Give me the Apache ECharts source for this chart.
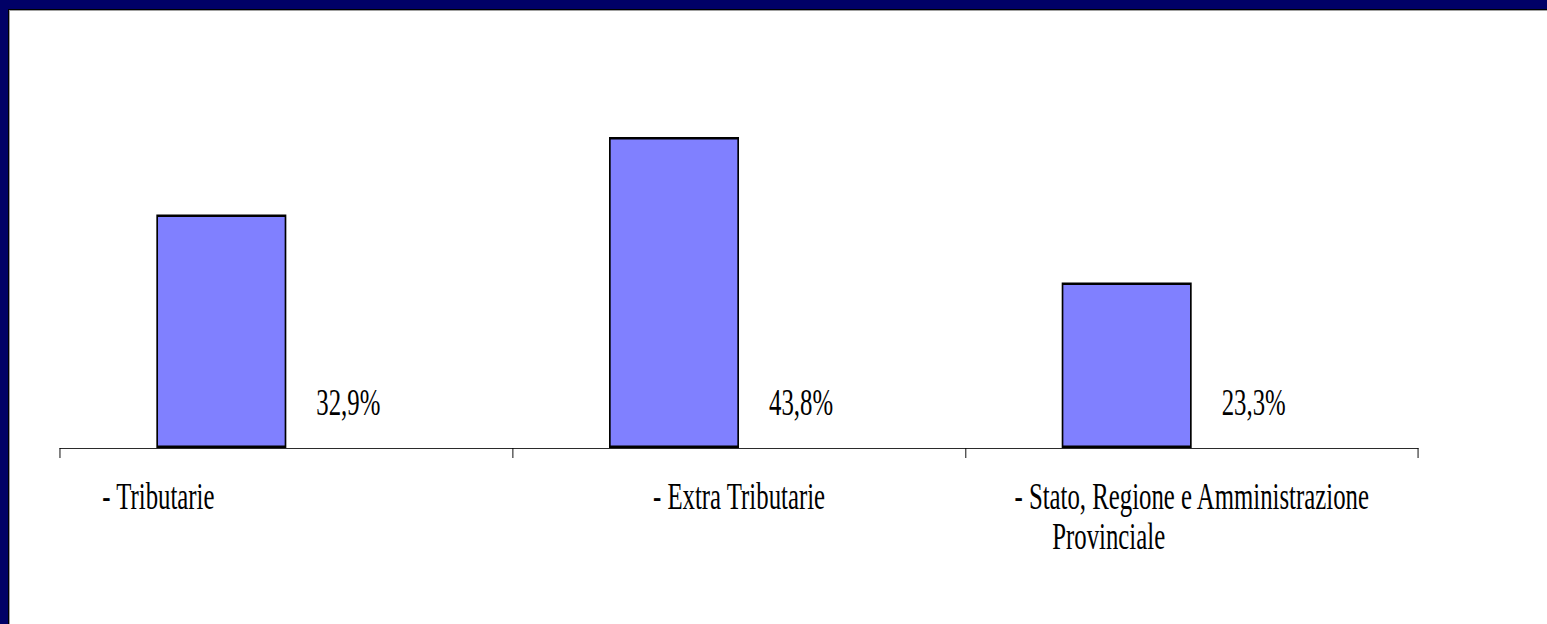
<!DOCTYPE html>
<html>
<head>
<meta charset="utf-8">
<script src="https://cdn.jsdelivr.net/npm/echarts@6/dist/echarts.min.js"></script>
<style>
  html, body { margin: 0; padding: 0; width: 1547px; height: 624px; overflow: hidden; background: #000066; }
  #frame { position: absolute; left: 8px; top: 9px; right: 0; bottom: 0; background: #fff;
           border-left: 1px solid #000; border-top: 1px solid #000; box-shadow: inset 1px 1px 0 #a0a0a0; }
  /* the chart is laid out wider and condensed horizontally, like the reference's narrow Times text */
  #chart { position: absolute; left: 0; top: 0; width: 2309px; height: 624px;
           transform: scaleX(0.67); transform-origin: 0 0; }
</style>
</head>
<body>
<div id="frame"></div>
<div id="chart"></div>
<script>
const categories = ['- Tributarie', '- Extra Tributarie', '- Stato, Regione e Amministrazione\nProvinciale'];
const values = [32.9, 43.8, 23.3];

const S = 0.67;            // horizontal condensing factor
const px = v => v / S;     // screen px -> pre-scale px (horizontal only)
const FONT = '"Liberation Serif", "Times New Roman", serif';
const chart = echarts.init(document.getElementById('chart'), null, { renderer: 'svg' });

function catFormatter(v, i) {
  if (i === 0) return '{a|' + v + '}';
  if (i === 2) {
    const parts = v.split('\n');
    return '{c|' + parts[0] + '}\n{p|' + parts[1] + '}';
  }
  return '{c|' + v + '}';
}

const LH = 40;
chart.setOption({
  backgroundColor: 'transparent',
  animation: false,
  grid: { left: px(60), right: px(129), top: 93, bottom: 176, containLabel: false },
  xAxis: {
    type: 'category',
    data: categories,
    axisLine: { lineStyle: { color: '#000', width: 1 } },
    axisTick: { show: true, length: 10, lineStyle: { color: '#000', width: 1.4 } },
    axisLabel: {
      interval: 0,
      margin: 29,
      color: '#000',
      fontFamily: FONT,
      fontSize: 37,
      lineHeight: LH,
      formatter: catFormatter,
      rich: {
        a: { fontFamily: FONT, fontSize: 37, lineHeight: LH, color: '#000', padding: [0, px(256), 0, 0] },
        c: { fontFamily: FONT, fontSize: 37, lineHeight: LH, color: '#000' },
        p: { fontFamily: FONT, fontSize: 37, lineHeight: LH, color: '#000', padding: [0, px(166), 0, 0] }
      }
    },
    splitLine: { show: false }
  },
  yAxis: {
    type: 'value',
    min: 0,
    max: 50,
    show: false
  },
  series: [
    {
      type: 'bar',
      data: values,
      barWidth: px(130),
      barGap: '0%',
      itemStyle: { color: '#8080ff', borderColor: '#000', borderWidth: 2.5 },
      silent: true
    },
    {
      type: 'bar',
      data: values,
      barWidth: px(130),
      barGap: '0%',
      itemStyle: { color: 'rgba(0,0,0,0)' },
      label: {
        show: true,
        position: 'insideBottom',
        distance: 27,
        offset: [px(-3), 0],
        color: '#000',
        fontFamily: FONT,
        fontSize: 37,
        lineHeight: 37,
        formatter: p => p.value.toFixed(1).replace('.', ',') + '%'
      },
      silent: true
    }
  ]
});
</script>
</body>
</html>
